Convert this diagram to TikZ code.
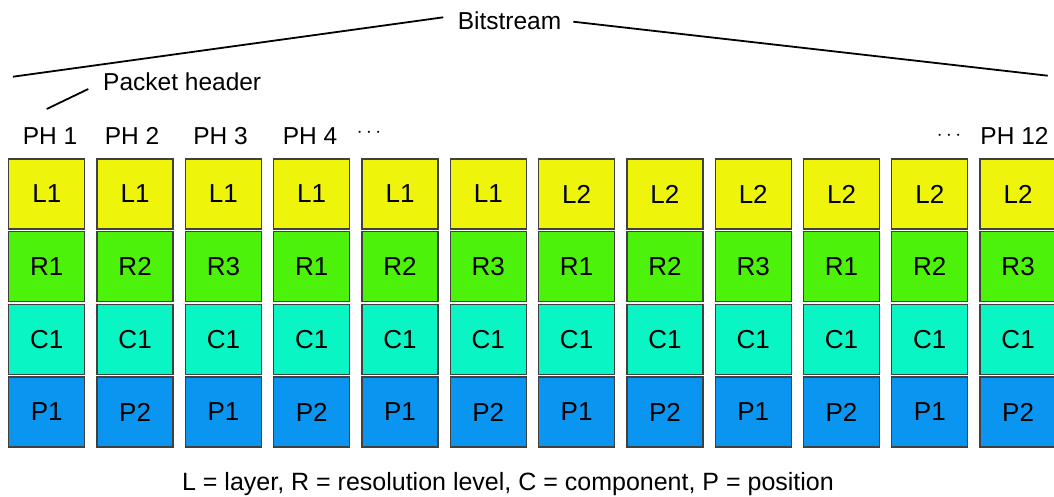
\documentclass[tikz,border=0pt]{standalone}
\usepackage{fontspec}
\setmainfont{Liberation Sans}
\definecolor{cyel}{RGB}{238,245,10}
\definecolor{cgrn}{RGB}{76,242,10}
\definecolor{ctea}{RGB}{10,245,196}
\definecolor{cblu}{RGB}{10,150,240}
\definecolor{cbrd}{RGB}{64,64,64}
\tikzset{
  cell/.style={draw=cbrd, line width=1.3pt, minimum width=76pt, minimum height=70pt, inner sep=0pt, font=\fontsize{26}{26}\selectfont, text=black},
  lbl/.style={inner sep=0pt, font=\fontsize{24.5}{24.5}\selectfont, anchor=base},
  dots/.style={inner sep=0pt, font=\fontsize{20}{20}\selectfont},
  thin line/.style={line width=1.8pt, black}
}
\begin{document}
\begin{tikzpicture}[x=1pt,y=-1pt]
\useasboundingbox (0,0) rectangle (1054,496);
\foreach \i/\l/\r/\p in {0/1/1/1,1/1/2/2,2/1/3/1,3/1/1/2,4/1/2/1,5/1/3/2,6/2/1/1,7/2/2/2,8/2/3/1,9/2/1/2,10/2/2/1,11/2/3/2}{
  \pgfmathsetmacro{\cx}{46.8+\i*88.3}
  \node[cell, fill=cyel] (L\i) at (\cx,194) {L\l};
  \node[cell, fill=cgrn] (R\i) at (\cx,266.5) {R\r};
  \node[cell, fill=ctea] (C\i) at (\cx,339.5) {C1};
  \node[cell, fill=cblu] (P\i) at (\cx,412) {P\p};
}
\node[lbl] (ph1) at (50,144) {PH 1};
\node[lbl] (ph2) at (132,144) {PH 2};
\node[lbl] (ph3) at (220.5,144) {PH 3};
\node[lbl] (ph4) at (310,144) {PH 4};
\node[dots] (d1) at (369,133) {$\cdots$};
\node[dots] (d2) at (949,135.5) {$\cdots$};
\node[lbl] (ph12) at (1014.5,144) {PH 12};
\node[lbl, anchor=base west] (phdr) at (103,90) {Packet header};
\node[lbl] (bs) at (509.5,29.3) {Bitstream};
\coordinate (bsL) at (13,76.7);
\coordinate (bsLe) at (443.3,17.3);
\coordinate (bsRs) at (573.3,21.7);
\coordinate (bsR) at (1047.7,75.7);
\draw[thin line] (bsL) -- (bsLe);
\draw[thin line] (bsRs) -- (bsR);
\coordinate (phA) at (46.7,109);
\coordinate (phB) at (88.3,89);
\draw[thin line] (phA) -- (phB);
\node[inner sep=0pt, anchor=base, font=\fontsize{25}{25}\selectfont] (legend) at (508,490.5) {L = layer, R = resolution level, C = component, P = position};
\end{tikzpicture}
\end{document}
